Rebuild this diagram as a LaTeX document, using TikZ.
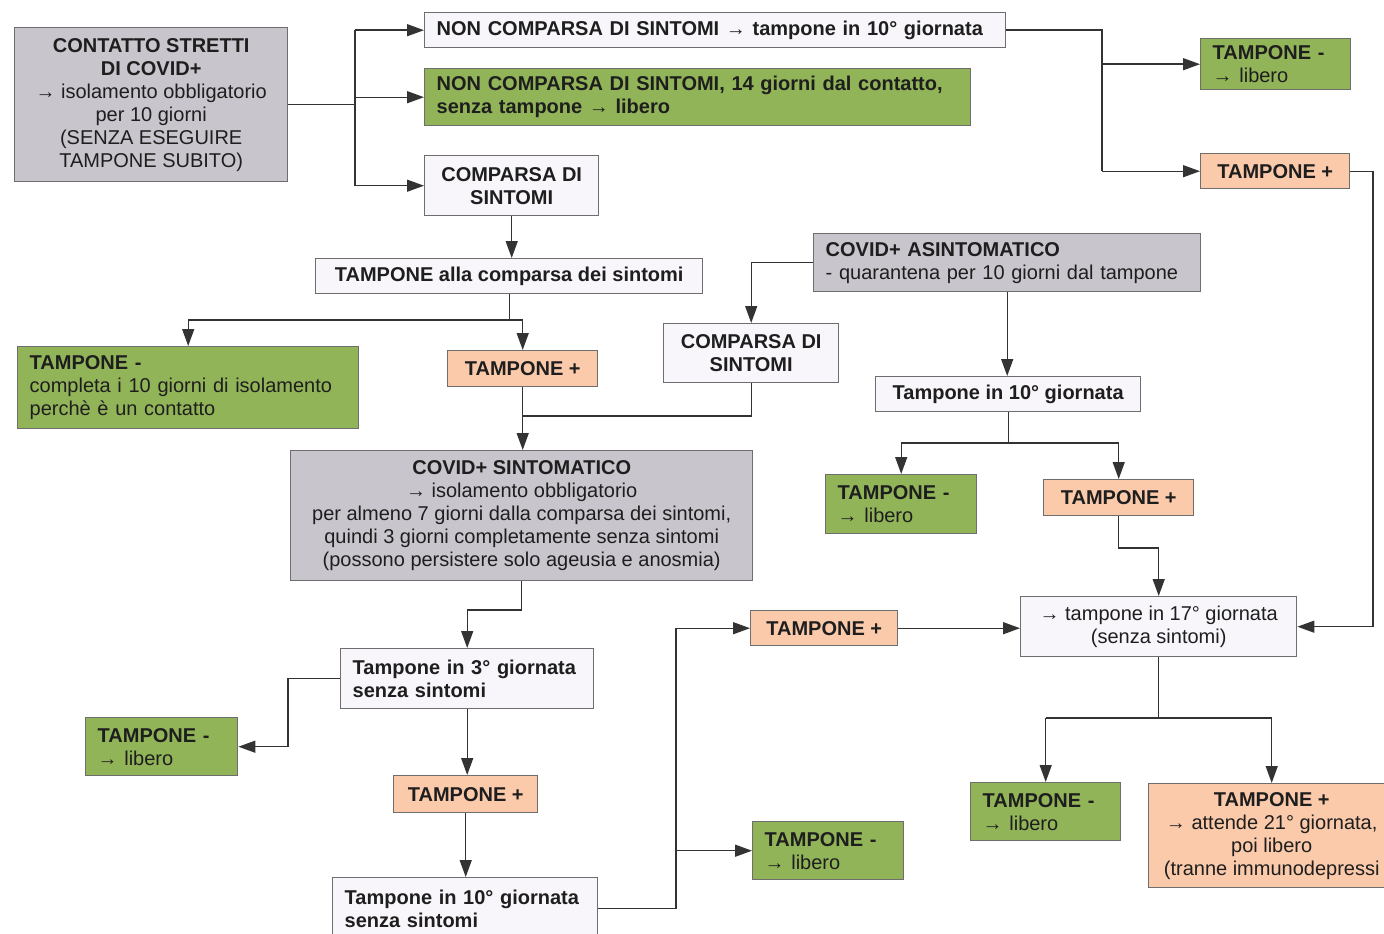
\documentclass[tikz,border=0pt]{standalone}
\usepackage{fontspec}
\setmainfont{Liberation Sans}
\usetikzlibrary{arrows.meta}
\definecolor{gfill}{HTML}{92B458}
\definecolor{ofill}{HTML}{FBCAAB}
\definecolor{yfill}{HTML}{C9C5CD}
\definecolor{wfill}{HTML}{F8F6FA}
\definecolor{bcol}{HTML}{6E6E6E}
\definecolor{lcol}{HTML}{333333}
\definecolor{tcol}{HTML}{1E1E1E}
\begin{document}
\begin{tikzpicture}[x=1pt,y=-1pt,
  box/.style={draw=bcol, line width=1.4pt, inner ysep=0pt, inner xsep=12pt, anchor=north west,
    font=\fontsize{20}{23}\selectfont, text=tcol},
  sz/.style 2 args={minimum width=#1, minimum height=#2},
  lt/.style={align=left, text width=#1},
  ct/.style={align=center},
  grn/.style={box, fill=gfill},
  org/.style={box, fill=ofill},
  gry/.style={box, fill=yfill},
  wht/.style={box, fill=wfill},
  conn/.style={draw=lcol, line width=1.4pt},
  arr/.style={conn, -{Triangle[length=17pt,width=12pt]}}]
\fill[white] (0,0) rectangle (1384,934);
\useasboundingbox (0,0) rectangle (1384,934);
\clip (0,0) rectangle (1384,934);

% nodes
\node[gry, sz={273}{154}, ct] (A) at (14,27) {\textbf{CONTATTO STRETTI}\\\textbf{DI COVID+}\\→ isolamento obbligatorio\\per 10 giorni\\(SENZA ESEGUIRE\\TAMPONE SUBITO)};
\node[wht, sz={581}{35}, lt=557] (B) at (424,12) {\textbf{NON COMPARSA DI SINTOMI → tampone in 10° giornata}};
\node[grn, sz={546}{57}, lt=522] (C) at (424,68) {\textbf{NON COMPARSA DI SINTOMI, 14 giorni dal contatto,}\\\textbf{senza tampone → libero}};
\node[wht, sz={174}{60}, ct] (D) at (424,155) {\textbf{COMPARSA DI}\\\textbf{SINTOMI}};
\node[wht, sz={387}{35}, ct] (E) at (315,258) {\textbf{TAMPONE alla comparsa dei sintomi}};
\node[grn, sz={341}{82}, lt=317] (F) at (17,346) {\textbf{TAMPONE -}\\completa i 10 giorni di isolamento\\perchè è un contatto};
\node[org, sz={150}{36}, ct] (G) at (447,350) {\textbf{TAMPONE +}};
\node[wht, sz={175}{59}, ct] (H) at (663,323) {\textbf{COMPARSA DI}\\\textbf{SINTOMI}};
\node[gry, sz={387}{58}, lt=363] (I) at (813,233) {\textbf{COVID+ ASINTOMATICO}\\- quarantena per 10 giorni dal tampone};
\node[gry, sz={462}{130}, ct] (J) at (290,450) {\textbf{COVID+ SINTOMATICO}\\→ isolamento obbligatorio\\per almeno 7 giorni dalla comparsa dei sintomi,\\quindi 3 giorni completamente senza sintomi\\(possono persistere solo ageusia e anosmia)};
\node[wht, sz={253}{60}, lt=229] (K) at (340,648) {\textbf{Tampone in 3° giornata}\\\textbf{senza sintomi}};
\node[grn, sz={152}{58}, lt=128] (L) at (85,717) {\textbf{TAMPONE -}\\→ libero};
\node[org, sz={144}{37}, ct] (M) at (393,775) {\textbf{TAMPONE +}};
\node[wht, sz={265}{62}, lt=241] (N) at (332,877) {\textbf{Tampone in 10° giornata}\\\textbf{senza sintomi}};
\node[grn, sz={151}{58}, lt=127] (O) at (752,821) {\textbf{TAMPONE -}\\→ libero};
\node[org, sz={147}{35}, ct] (P) at (750,610) {\textbf{TAMPONE +}};
\node[wht, sz={276}{60}, ct] (Q) at (1020,596) {→ tampone in 17° giornata\\(senza sintomi)};
\node[wht, sz={265}{35}, ct] (R) at (875,376) {\textbf{Tampone in 10° giornata}};
\node[grn, sz={151}{59}, lt=127] (S) at (825,474) {\textbf{TAMPONE -}\\→ libero};
\node[org, sz={150}{36}, ct] (T) at (1043,479) {\textbf{TAMPONE +}};
\node[grn, sz={150}{51}, lt=126] (U) at (1200,38) {\textbf{TAMPONE -}\\→ libero};
\node[org, sz={149}{35}, ct] (V) at (1200,153) {\textbf{TAMPONE +}};
\node[grn, sz={150}{58}, lt=126] (W) at (970,782) {\textbf{TAMPONE -}\\→ libero};
\node[org, sz={246}{104}, ct] (X) at (1148,783) {\textbf{TAMPONE +}\\→ attende 21° giornata,\\poi libero\\(tranne immunodepressi};

% connectors
\coordinate (jA) at (355,0);
\draw[conn] (A.east) -- (jA |- A.east);
\draw[conn] (jA |- B.west) -- (jA |- D.west);
\draw[arr] (jA |- B.west) -- (B.west);
\draw[arr] (jA |- C.west) -- (C.west);
\draw[arr] (jA |- D.west) -- (D.west);

\draw[arr] (D.south) -- (D.south |- E.north);
\coordinate (jE) at (0,320);
\draw[conn] (E.south) -- (E.south |- jE);
\draw[conn] (F.north |- jE) -- (G.north |- jE);
\draw[arr] (F.north |- jE) -- (F.north);
\draw[arr] (G.north |- jE) -- (G.north);

\draw[arr] (I.west) -| (H.north);
\coordinate (jH) at (0,416);
\draw[conn] (H.south) |- (G.south |- jH);
\draw[arr] (G.south) -- (G.south |- J.north);
\coordinate (jJ) at (0,610);
\draw[arr] (J.south) |- (K.north |- jJ) -- (K.north);
\coordinate (jK) at (288,0);
\draw[arr] (K.west) -- (jK |- K.west) |- (L.east);
\draw[arr] (K.south) -- (K.south |- M.north);
\draw[arr] (M.south) -- (M.south |- N.north);
\coordinate (jN) at (676,0);
\draw[conn] (N.east) -- (jN |- N.east) -- (jN |- P.west);
\draw[arr] (jN |- P.west) -- (P.west);
\draw[arr] (jN |- O.west) -- (O.west);
\draw[arr] (P.east) -- (P.east -| Q.west);

\draw[arr] (I.south) -- (I.south |- R.north);
\coordinate (jR) at (0,443);
\draw[conn] (R.south) -- (R.south |- jR);
\draw[conn] (S.north |- jR) -- (T.north |- jR);
\draw[arr] (S.north |- jR) -- (S.north);
\draw[arr] (T.north |- jR) -- (T.north);
\coordinate (jT) at (0,548);
\draw[arr] (T.south) |- (Q.north |- jT) -- (Q.north);

\coordinate (jB) at (1102,0);
\draw[conn] (B.east) -- (jB |- B.east) -- (jB |- V.west);
\draw[arr] (jB |- U.west) -- (U.west);
\draw[arr] (jB |- V.west) -- (V.west);
\coordinate (jV) at (1373,0);
\draw[arr] (V.east) -- (jV |- V.east) |- (Q.east);

\coordinate (jQ) at (0,718);
\draw[conn] (Q.south) -- (Q.south |- jQ);
\draw[conn] (W.north |- jQ) -- (X.north |- jQ);
\draw[arr] (W.north |- jQ) -- (W.north);
\draw[arr] (X.north |- jQ) -- (X.north);
\end{tikzpicture}
\end{document}
